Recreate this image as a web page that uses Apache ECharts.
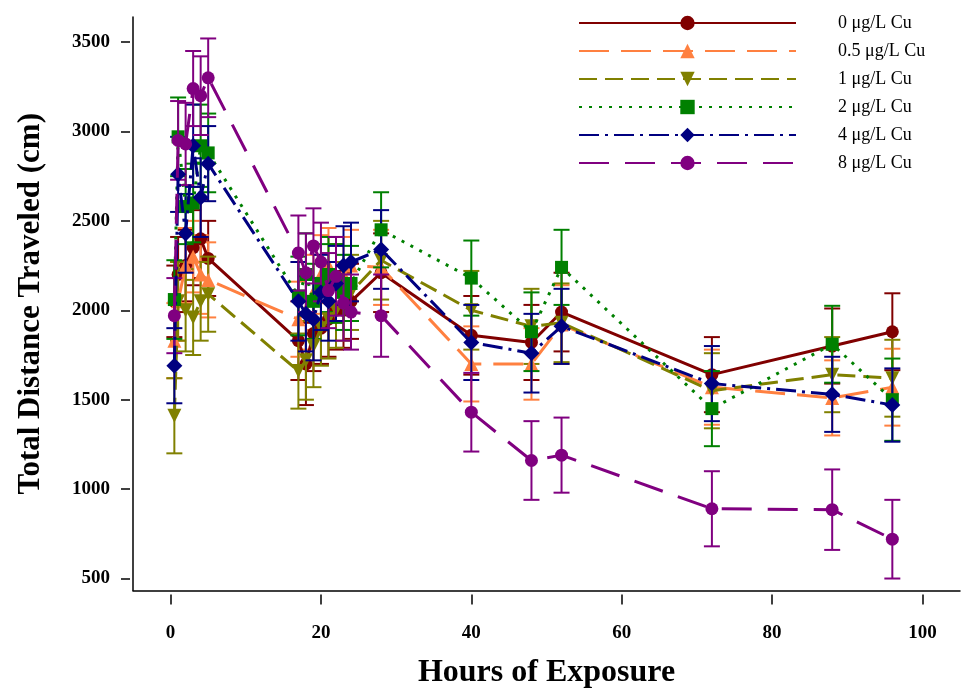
<!DOCTYPE html>
<html>
<head>
<meta charset="utf-8">
<script src="https://cdn.jsdelivr.net/npm/echarts@6/dist/echarts.min.js"></script>
<style>
html,body{margin:0;padding:0;background:#fff;}
#chart{width:964px;height:698px;}
</style>
</head>
<body>
<div id="chart"></div>
<script>
// ---- data ----
const hours = [0.5, 1, 2, 3, 4, 5, 17, 18, 19, 20, 21, 22, 23, 24, 28, 40, 48, 52, 72, 88, 96];
const seriesNames = ['0 μg/L Cu', '0.5 μg/L Cu', '1 μg/L Cu', '2 μg/L Cu', '4 μg/L Cu', '8 μg/L Cu'];
const cu0  = [2050, 2200, 2250, 2350, 2400, 2290, 1830, 1700, 1870, 1900, 1950, 2000, 2000, 2050, 2210, 1860, 1820, 1990, 1640, 1800, 1880];
const cu05 = [1830, 2050, 2250, 2300, 2200, 2170, 1950, 2000, 2100, 2200, 2250, 2150, 2200, 2250, 2240, 1700, 1700, 1920, 1570, 1510, 1570];
const cu1  = [1410, 2050, 2000, 1960, 2050, 2090, 1660, 1720, 1800, 1900, 1950, 2000, 2050, 2100, 2280, 2000, 1910, 1930, 1550, 1640, 1620];
const cu2  = [2060, 2970, 2580, 2600, 2920, 2880, 2080, 2200, 2050, 2150, 2200, 2150, 2100, 2150, 2450, 2180, 1880, 2240, 1450, 1810, 1500];
const cu4  = [1690, 2760, 2430, 2920, 2630, 2820, 2050, 1980, 1950, 2100, 2050, 2150, 2250, 2270, 2340, 1820, 1760, 1910, 1590, 1530, 1470];
const cu8  = [1970, 2950, 2930, 3240, 3200, 3300, 2320, 2210, 2360, 2270, 2110, 2190, 2040, 1990, 1970, 1430, 1160, 1190, 890, 885, 720];
const err0  = [200, 210, 200, 210, 220, 210, 220, 230, 210, 200, 210, 220, 210, 210, 220, 220, 210, 220, 210, 210, 215];
const err05 = [210, 220, 210, 200, 220, 210, 210, 220, 210, 220, 210, 220, 210, 200, 210, 210, 200, 220, 210, 210, 215];
const err1  = [210, 220, 230, 210, 220, 210, 210, 220, 230, 210, 220, 210, 220, 210, 220, 220, 210, 220, 210, 210, 215];
const err2  = [220, 220, 210, 220, 230, 220, 220, 230, 210, 220, 210, 220, 210, 210, 210, 210, 220, 210, 210, 215, 230];
const err4  = [210, 210, 220, 230, 220, 210, 220, 210, 230, 210, 220, 210, 220, 220, 220, 210, 220, 210, 210, 210, 205];
const err8  = [210, 220, 230, 210, 220, 220, 210, 220, 210, 220, 210, 220, 210, 210, 230, 220, 220, 210, 210, 225, 220];
const xTicks = [0, 20, 40, 60, 80, 100];
const yTicks = [500, 1000, 1500, 2000, 2500, 3000, 3500];

// ---- styles ----
const values = [cu0, cu05, cu1, cu2, cu4, cu8];
const errors = [err0, err05, err1, err2, err4, err8];
const colors = ['#800000', '#FF8040', '#808000', '#008000', '#000080', '#800080'];
const dashes = ['solid', [30, 12], [18, 8], [3, 7], [20, 6, 3, 6], [30, 16]];
const symbols = ['circle', 'triangle', 'triangle', 'rect', 'diamond', 'circle'];
const rotates = [0, 0, 180, 0, 0, 0];
const sizes = [13, 14, 14, 13, 16, 13];
const font = 'Liberation Serif';

const series = [];
values.forEach((vals, i) => {
  const errData = hours.map((h, j) => [h, vals[j] - errors[i][j], vals[j] + errors[i][j]]);
  series.push({
    type: 'custom',
    name: seriesNames[i] + ' err',
    xAxisIndex: 0, yAxisIndex: 0,
    encode: {x: 0, y: [1, 2]},
    data: errData,
    z: 2 + i,
    silent: true,
    renderItem: function (params, api) {
      const x = api.value(0);
      const lo = api.coord([x, api.value(1)]);
      const hi = api.coord([x, api.value(2)]);
      const hw = 8;
      const st = {stroke: colors[i], lineWidth: 2};
      return {type: 'group', children: [
        {type: 'line', shape: {x1: lo[0], y1: lo[1], x2: hi[0], y2: hi[1]}, style: st},
        {type: 'line', shape: {x1: lo[0] - hw, y1: lo[1], x2: lo[0] + hw, y2: lo[1]}, style: st},
        {type: 'line', shape: {x1: hi[0] - hw, y1: hi[1], x2: hi[0] + hw, y2: hi[1]}, style: st}
      ]};
    }
  });
  series.push({
    type: 'line',
    name: seriesNames[i],
    xAxisIndex: 0, yAxisIndex: 0,
    data: hours.map((h, j) => [h, vals[j]]),
    symbol: symbols[i],
    symbolRotate: rotates[i],
    symbolSize: sizes[i],
    showAllSymbol: true,
    z: 3 + i,
    itemStyle: {color: colors[i]},
    lineStyle: {color: colors[i], width: 3, type: dashes[i]},
    animation: false
  });
});

const chart = echarts.init(document.getElementById('chart'));
chart.setOption({
  animation: false,
  backgroundColor: '#fff',
  grid: {left: 133, right: 4, top: 17, bottom: 107.5},
  legend: {
    data: seriesNames,
    orient: 'vertical',
    left: 573, top: 9,
    itemWidth: 217, itemHeight: 18, itemGap: 10,
    textStyle: {fontFamily: font, fontSize: 18, color: '#000', padding: [0, 0, 0, 37]}
  },
  xAxis: [
    {type: 'value', min: -5, max: 105, position: 'bottom',
     axisLine: {show: true, onZero: false, lineStyle: {color: '#000', width: 1.5}},
     axisTick: {show: false}, axisLabel: {show: false}, splitLine: {show: false}},
    {type: 'value', min: -5, max: 105, position: 'bottom', offset: 4,
     axisLine: {show: false, onZero: false},
     axisTick: {show: true, length: 10, customValues: xTicks, lineStyle: {color: '#000', width: 1.5}},
     axisLabel: {customValues: xTicks, margin: 29, formatter: v => String(v), fontFamily: font, fontWeight: 'bold', fontSize: 19, color: '#000'},
     splitLine: {show: false},
     name: 'Hours of Exposure', nameLocation: 'middle', nameGap: 62,
     nameTextStyle: {fontFamily: font, fontWeight: 'bold', fontSize: 32, color: '#000'}}
  ],
  yAxis: [
    {type: 'value', min: 433, max: 3640, position: 'left',
     axisLine: {show: true, onZero: false, lineStyle: {color: '#000', width: 1.5}},
     axisTick: {show: false}, axisLabel: {show: false}, splitLine: {show: false}},
    {type: 'value', min: 433, max: 3640, position: 'left', offset: 3,
     axisLine: {show: false, onZero: false},
     axisTick: {show: true, length: 9, customValues: yTicks, lineStyle: {color: '#000', width: 1.5}},
     axisLabel: {customValues: yTicks, margin: 20, formatter: v => String(v), fontFamily: font, fontWeight: 'bold', fontSize: 19, color: '#000'},
     splitLine: {show: false},
     name: 'Total Distance Traveled (cm)', nameLocation: 'middle', nameGap: 84, nameRotate: 90,
     nameTextStyle: {fontFamily: font, fontWeight: 'bold', fontSize: 31, color: '#000'}}
  ],
  series: series
});
</script>
</body>
</html>
